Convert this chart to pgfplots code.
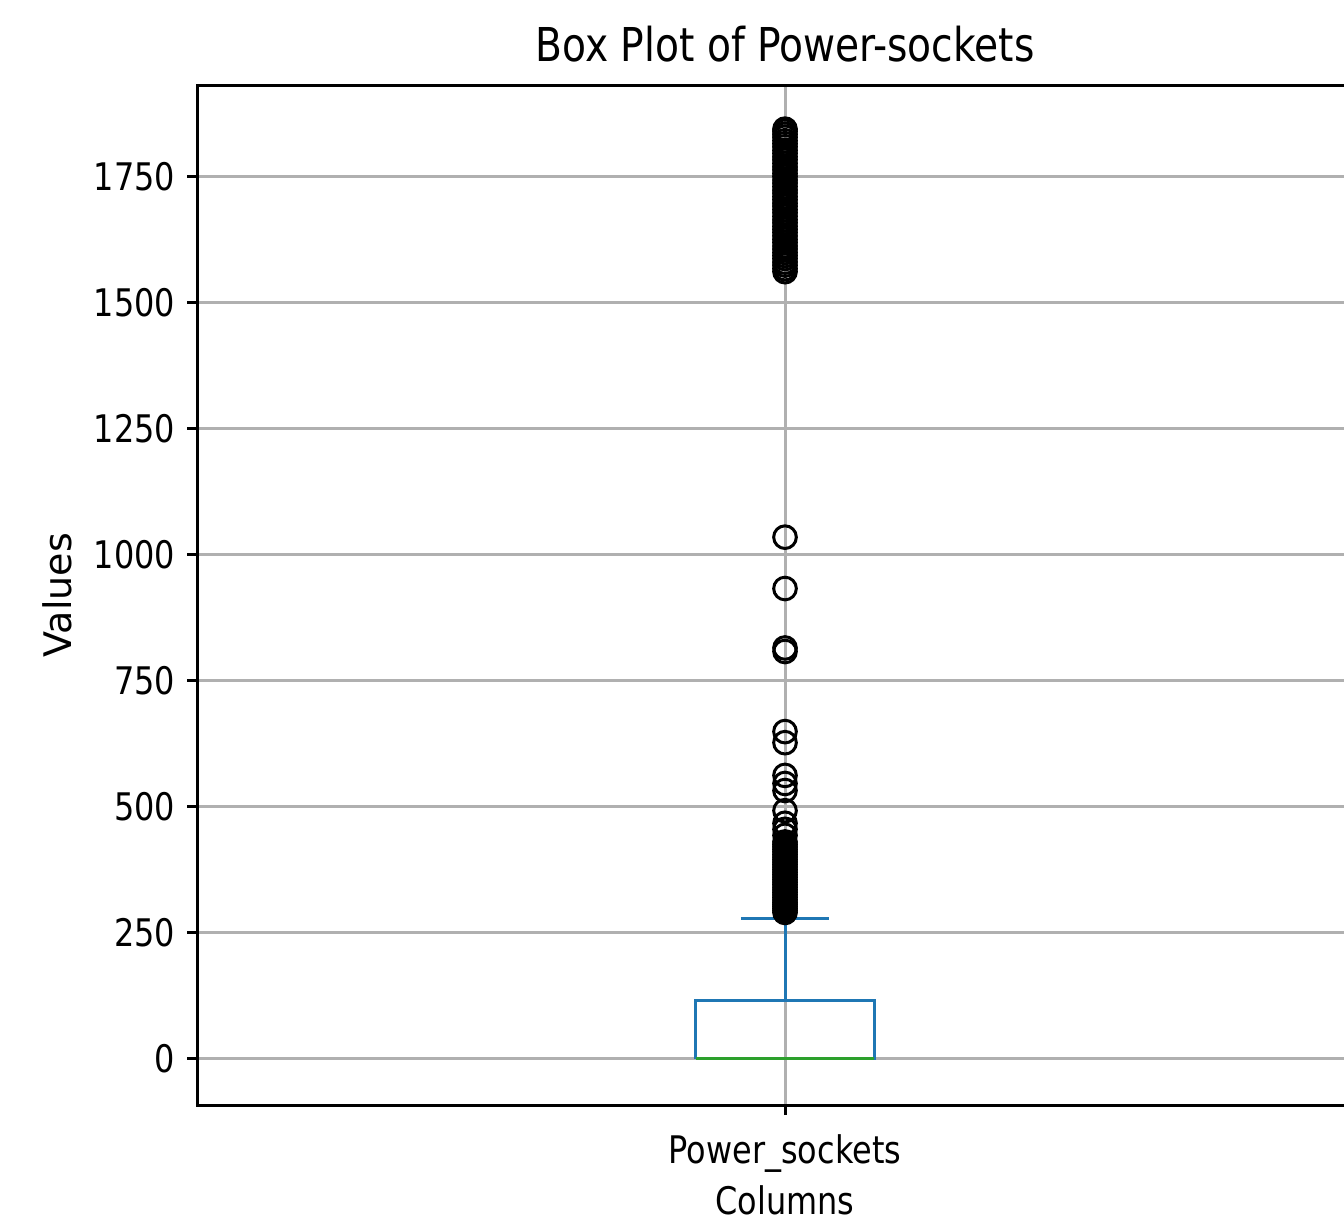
\documentclass[border=0pt]{standalone}
\usepackage{pgfplots}
\usepackage{pgfplotstable}
\pgfplotsset{compat=1.18}
\usepackage{fontspec}
\setmainfont{DejaVu Sans}[FakeStretch=0.84]
\newfontfamily\vfont{DejaVu Sans}
\definecolor{mplblue}{HTML}{1F77B4}
\definecolor{mplgreen}{HTML}{2CA02C}
\definecolor{gridgray}{HTML}{B0B0B0}
\pgfplotstableread[row sep=\\]{
v\\ 290\\ 294\\ 298\\ 302\\ 306\\ 310\\ 315\\ 320\\ 325\\ 330\\ 335\\ 340\\ 345\\ 350\\ 355\\ 360\\ 365\\ 370\\ 375\\ 380\\ 385\\ 390\\ 395\\ 400\\ 405\\ 410\\ 415\\ 420\\ 425\\ 430\\ 443\\ 455\\ 467\\ 492\\ 532\\ 546\\ 562\\ 627\\ 649\\ 808\\ 815\\ 933\\ 1035\\
1562\\ 1568\\ 1575\\ 1581\\ 1588\\ 1594\\ 1600\\ 1607\\ 1613\\ 1620\\ 1626\\ 1633\\ 1640\\ 1646\\ 1652\\ 1659\\ 1665\\ 1672\\ 1679\\ 1685\\ 1692\\ 1698\\ 1705\\ 1711\\ 1718\\ 1724\\ 1731\\ 1738\\ 1744\\ 1751\\ 1757\\ 1764\\ 1770\\ 1777\\ 1784\\ 1790\\ 1797\\ 1803\\ 1810\\ 1816\\ 1822\\ 1829\\ 1835\\ 1841\\ 1845\\
}\outliers
\begin{document}
\begin{tikzpicture}
\begin{axis}[
  at={(59.1pt,33.6pt)}, anchor=south west,
  scale only axis, width=352.8pt, height=306pt,
  xmin=0.5, xmax=1.5, ymin=-92.3, ymax=1932.6,
  xtick={1}, xticklabels={Power\_sockets},
  ytick={0,250,500,750,1000,1250,1500,1750},
  /pgf/number format/assume math mode=true,
  /pgf/number format/set thousands separator={},
  grid=major,
  major grid style={draw=gridgray, line width=0.9pt},
  axis line style={line width=0.9pt},
  every tick/.style={black, line width=0.9pt},
  tick align=outside, tick pos=left,
  major tick length=3pt,
  tick label style={font=\fontsize{11.4}{13.7}\selectfont},
  xticklabel style={yshift=-2.4pt},
  label style={font=\fontsize{11.4}{13.7}\selectfont},
  title={Box Plot of Power-sockets},
  title style={font=\fontsize{14}{16.8}\selectfont, at={(axis description cs:0.5,1)}, anchor=base, yshift=0.9pt},
  xlabel={Columns}, ylabel={Values},
  xlabel style={at={(axis description cs:0.5,-0.093)}, anchor=center},
  ylabel style={font=\vfont\fontsize{11.4}{13.7}\selectfont, at={(axis description cs:-0.119,0.5)}, anchor=center, rotate=0},
]
% box
\addplot[mplblue, line width=0.9pt] coordinates {(0.924,0) (1.076,0) (1.076,115) (0.924,115) (0.924,0)};
% whiskers and caps
\addplot[mplblue, line width=0.9pt] coordinates {(1,115) (1,278)};
\addplot[mplblue, line width=0.9pt] coordinates {(0.9625,278) (1.0375,278)};
\addplot[mplblue, line width=0.9pt] coordinates {(0.9625,0) (1.0375,0)};
% median
\addplot[mplgreen, line width=0.9pt] coordinates {(0.924,0) (1.076,0)};
% outliers
\addplot[only marks, mark=o, mark size=3.4pt, mark options={draw=black, line width=0.9pt}] table[x expr=1, y=v] {\outliers};
\end{axis}
\pgfresetboundingbox
\useasboundingbox (0,0) rectangle (403.2pt,365.1pt);
\end{tikzpicture}
\end{document}
